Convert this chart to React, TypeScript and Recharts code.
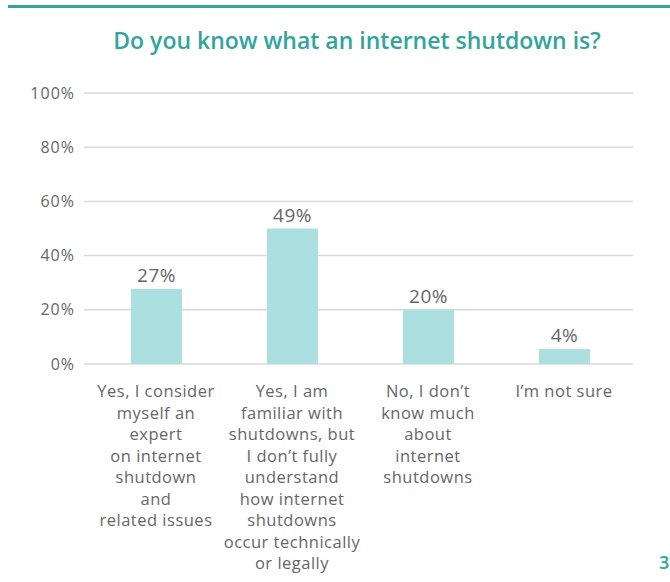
import React from "react";
import { BarChart, Bar, XAxis, YAxis, CartesianGrid, LabelList } from "recharts";

const categories = [
  "Yes, I consider|myself an|expert|on internet|shutdown|and|related issues",
  "Yes, I am|familiar with|shutdowns, but|I don’t fully|understand|how internet|shutdowns|occur technically|or legally",
  "No, I don’t|know much|about|internet|shutdowns",
  "I’m not sure",
];
const values = [27.7, 50, 20, 5.5];
const valueLabels = ["27%", "49%", "20%", "4%"];
const yTicks = [0, 20, 40, 60, 80, 100];

const data = categories.map((c, i) => ({ name: c, value: values[i], label: valueLabels[i] }));

const FONT = "'Open Sans', sans-serif";
const GRAY = "#666666";
const TEAL = "#2fa59c";

const XTick = (props: any) => {
  const { x, y, payload } = props;
  const lines: string[] = String(payload.value).split("|");
  return (
    <g>
      {lines.map((l, i) => (
        <text
          key={i}
          x={x}
          y={y + 25 + i * 21.5}
          textAnchor="middle"
          fill={GRAY}
          fontSize={16.5}
          letterSpacing={0.5}
          fontFamily={FONT}
        >
          {l}
        </text>
      ))}
    </g>
  );
};

export default function App() {
  return (
    <div style={{ position: "absolute", left: 0, top: 0, width: 670, height: 582, background: "#fff" }}>
      <div style={{ position: "absolute", left: 8, top: 5, width: 662, height: 3, background: TEAL }} />
      <div
        style={{
          position: "absolute",
          left: 0,
          width: 670,
          top: 26,
          textAlign: "center",
          paddingLeft: 44,
          boxSizing: "border-box",
          fontFamily: FONT,
          fontWeight: 600,
          fontSize: 23,
          color: TEAL,
          lineHeight: "28px",
        }}
      >
        Do you know what an internet shutdown is?
      </div>
      <div
        style={{
          position: "absolute",
          left: 659,
          top: 550,
          fontFamily: FONT,
          fontWeight: 600,
          fontSize: 18,
          color: TEAL,
        }}
      >
        3
      </div>
      <div style={{ position: "absolute", left: 0, top: 0 }}>
        <BarChart
          width={670}
          height={582}
          data={data}
          margin={{ top: 93, right: 37, bottom: 0, left: 0 }}
        >
          <CartesianGrid vertical={false} stroke="#d9d9d9" strokeWidth={1.5} />
          <XAxis
            dataKey="name"
            axisLine={false}
            tickLine={false}
            interval={0}
            padding={{ left: 4, right: 1 }}
            tick={<XTick />}
            height={218}
          />
          <YAxis
            width={84}
            domain={[0, 100]}
            ticks={yTicks}
            axisLine={false}
            tickLine={false}
            tickSize={0}
            tickMargin={9}
            tickFormatter={(v: number) => `${v}%`}
            tick={{ fill: GRAY, fontSize: 16, fontFamily: FONT, letterSpacing: 1 }}
          />
          <Bar dataKey="value" fill="#abdfe0" barSize={51} isAnimationActive={false}>
            <LabelList
              dataKey="label"
              position="top"
              offset={7}
              fill={GRAY}
              fontSize={19}
              letterSpacing={0.5}
              fontFamily={FONT}
            />
          </Bar>
        </BarChart>
      </div>
    </div>
  );
}
